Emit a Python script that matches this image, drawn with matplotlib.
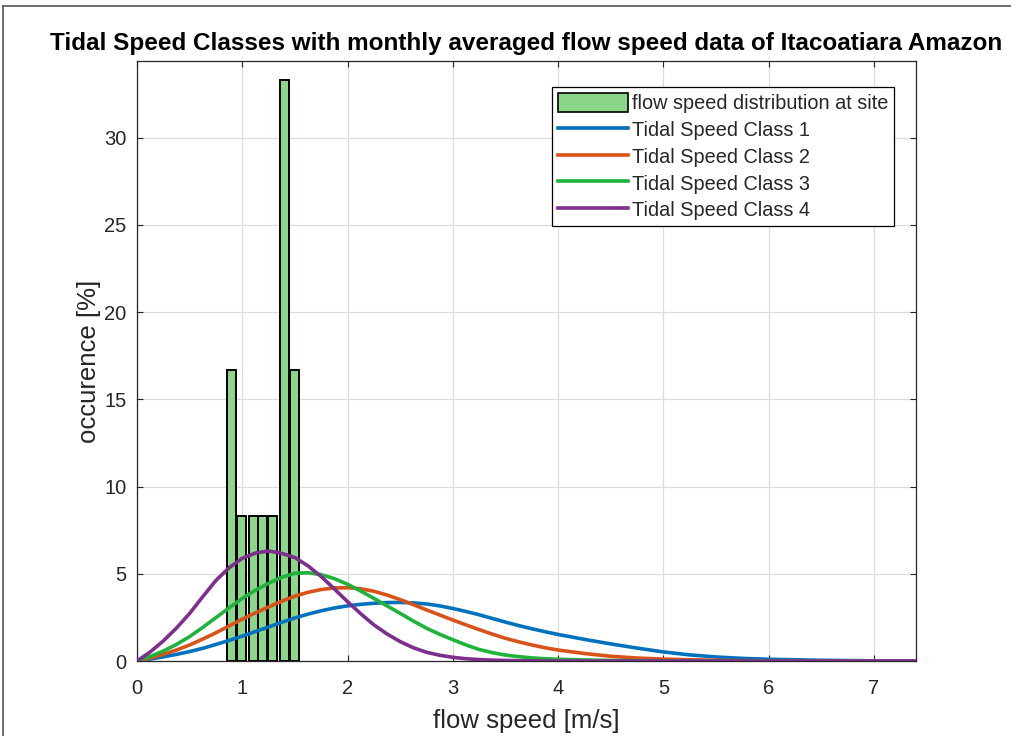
import matplotlib
matplotlib.use("Agg")
import matplotlib.pyplot as plt
from matplotlib.lines import Line2D
from matplotlib.patches import Patch

plt.rcParams["font.family"] = ["Liberation Sans", "DejaVu Sans"]

# measured histogram (monthly averages, 12 months)
bar_centers = [0.895, 0.99, 1.105, 1.195, 1.285, 1.405, 1.495]
occurrence = [16.67, 8.33, 8.33, 8.33, 8.33, 33.33, 16.67]

speed = [0, 0.125, 0.25, 0.375, 0.5, 0.625, 0.75, 0.875, 1.0, 1.125, 1.25, 1.375,
         1.5, 1.625, 1.75, 1.875, 2.0, 2.125, 2.25, 2.375, 2.5, 2.625, 2.75, 2.875,
         3.0, 3.125, 3.25, 3.375, 3.5, 3.625, 3.75, 3.875, 4.0,
         4.25, 4.5, 4.75, 5.0, 5.25, 5.5, 5.75, 6.0, 6.5, 7.0, 7.4]
class1 = [0, 0.11, 0.24, 0.38, 0.54, 0.73, 0.95, 1.18, 1.43, 1.69, 1.95, 2.22,
          2.47, 2.69, 2.88, 3.04, 3.16, 3.25, 3.31, 3.35, 3.36, 3.33, 3.27, 3.16,
          3.01, 2.84, 2.65, 2.44, 2.23, 2.03, 1.85, 1.68, 1.52,
          1.24, 0.98, 0.74, 0.52, 0.35, 0.23, 0.15, 0.10, 0.04, 0.01, 0.0]
class2 = [0, 0.17, 0.38, 0.63, 0.92, 1.26, 1.62, 2.01, 2.40, 2.76, 3.10, 3.43,
          3.72, 3.94, 4.10, 4.19, 4.20, 4.14, 4.00, 3.78, 3.52, 3.23, 2.93, 2.64,
          2.35, 2.07, 1.80, 1.54, 1.30, 1.10, 0.92, 0.76, 0.63,
          0.43, 0.27, 0.17, 0.11, 0.07, 0.04, 0.02, 0.01, 0.0, 0.0, 0.0]
class3 = [0, 0.26, 0.57, 0.95, 1.40, 1.93, 2.49, 3.05, 3.59, 4.06, 4.46, 4.80,
          5.03, 5.06, 4.95, 4.72, 4.40, 4.01, 3.59, 3.16, 2.73, 2.29, 1.88, 1.53,
          1.22, 0.92, 0.66, 0.48, 0.34, 0.25, 0.18, 0.13, 0.10,
          0.06, 0.03, 0.02, 0.01, 0.0, 0.0, 0.0, 0.0, 0.0, 0.0, 0.0]
class4 = [0, 0.52, 1.15, 1.89, 2.73, 3.69, 4.62, 5.35, 5.89, 6.19, 6.31, 6.17,
          5.93, 5.45, 4.84, 4.13, 3.40, 2.71, 2.07, 1.55, 1.11, 0.76, 0.50, 0.33,
          0.21, 0.13, 0.08, 0.05, 0.03, 0.02, 0.01, 0.0, 0.0,
          0.0, 0.0, 0.0, 0.0, 0.0, 0.0, 0.0, 0.0, 0.0, 0.0, 0.0]

class_names = ["Tidal Speed Class 1", "Tidal Speed Class 2",
               "Tidal Speed Class 3", "Tidal Speed Class 4"]
class_colors = ["#0072bd", "#d95319", "#1fb33c", "#7e2f8e"]

txt = "#262626"

fig = plt.figure(figsize=(10.12, 7.36), dpi=100)
ax = fig.add_axes([0.1354, 0.1019, 0.7698, 0.8152])

ax.bar(bar_centers, occurrence, width=0.085, color="#8cd68a",
       edgecolor="black", linewidth=1.4, zorder=2)
for ys, c in zip([class1, class2, class3, class4], class_colors):
    ax.plot(speed, ys, color=c, linewidth=2.6, zorder=3)

ax.set_xlim(0, 7.4)
ax.set_ylim(0, 34.4)
ax.set_xticks(range(0, 8))
ax.set_yticks(range(0, 35, 5))
ax.grid(True, color="#dcdcdc", linewidth=0.9, zorder=0)
ax.set_axisbelow(True)
ax.tick_params(direction="in", length=4, width=0.8, top=True, right=True,
               labelsize=14.5, colors=txt)
ax.tick_params(axis="x", pad=13)
ax.tick_params(axis="y", pad=7.5)
for s in ax.spines.values():
    s.set_color(txt)
    s.set_linewidth(0.9)

ax.set_xlabel("flow speed [m/s]", fontsize=18.5, color=txt, labelpad=8)
ax.set_ylabel("occurence [%]", fontsize=18.5, color=txt, labelpad=2)
ax.set_title("Tidal Speed Classes with monthly averaged flow speed data of Itacoatiara Amazon",
             fontsize=17.5, fontweight="bold", color="black", pad=8)

handles = [Patch(facecolor="#8cd68a", edgecolor="black", linewidth=1.2)]
handles += [Line2D([], [], color=c, linewidth=2.6) for c in class_colors]
labels = ["flow speed distribution at site"] + class_names
leg = ax.legend(handles, labels, loc="upper right", fontsize=14.3,
                bbox_to_anchor=(0.972, 0.957), borderaxespad=0,
                handlelength=3.5, handleheight=1.1, handletextpad=0.2,
                labelspacing=0.33, borderpad=0.3, fancybox=False,
                framealpha=1, edgecolor="black")
leg.get_frame().set_linewidth(0.9)
for t in leg.get_texts():
    t.set_color(txt)

# frame of the exported figure window
fig.add_artist(Line2D([3 / 1012, 3 / 1012], [0, 1 - 6 / 736], color="#555555", linewidth=1.2))
fig.add_artist(Line2D([3 / 1012, 1], [1 - 6 / 736, 1 - 6 / 736], color="#555555", linewidth=1.2))

fig.savefig("out.png", dpi=100)
